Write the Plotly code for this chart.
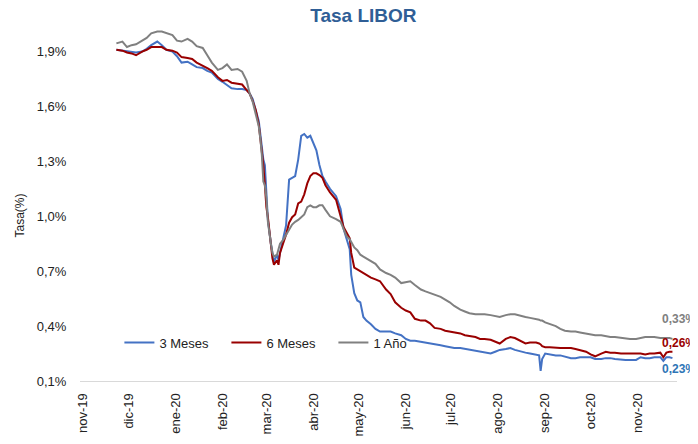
import plotly.graph_objects as go

# Fechas de muestreo (lectura aproximada del gráfico)
dates = [
    "2019-11-23", "2019-11-27", "2019-11-30", "2019-12-03", "2019-12-06",
    "2019-12-10", "2019-12-13", "2019-12-16", "2019-12-20", "2019-12-23",
    "2019-12-26", "2019-12-30", "2020-01-02", "2020-01-05", "2020-01-09",
    "2020-01-12", "2020-01-15", "2020-01-19", "2020-01-22", "2020-01-25",
    "2020-01-29", "2020-02-01", "2020-02-04", "2020-02-07", "2020-02-11",
    "2020-02-14", "2020-02-17", "2020-02-19", "2020-02-21", "2020-02-23",
    "2020-02-25", "2020-02-26", "2020-02-27", "2020-02-28", "2020-02-29",
    "2020-03-01", "2020-03-02", "2020-03-04", "2020-03-05", "2020-03-06",
    "2020-03-08", "2020-03-09", "2020-03-10", "2020-03-12", "2020-03-14",
    "2020-03-16", "2020-03-18", "2020-03-20", "2020-03-22", "2020-03-24",
    "2020-03-26", "2020-03-28", "2020-03-30", "2020-04-01", "2020-04-03",
    "2020-04-05", "2020-04-07", "2020-04-09", "2020-04-12", "2020-04-16",
    "2020-04-19", "2020-04-21", "2020-04-23", "2020-04-25", "2020-04-26",
    "2020-04-28", "2020-04-30", "2020-05-02", "2020-05-04", "2020-05-06",
    "2020-05-09", "2020-05-12", "2020-05-15", "2020-05-19", "2020-05-22",
    "2020-05-25", "2020-05-29", "2020-06-01", "2020-06-04", "2020-06-07",
    "2020-06-11", "2020-06-14", "2020-06-17", "2020-06-20", "2020-06-24",
    "2020-06-27", "2020-06-30", "2020-07-03", "2020-07-07", "2020-07-10",
    "2020-07-13", "2020-07-17", "2020-07-20", "2020-07-23", "2020-07-27",
    "2020-07-30", "2020-08-02", "2020-08-06", "2020-08-09", "2020-08-12",
    "2020-08-16", "2020-08-19", "2020-08-22", "2020-08-26", "2020-08-28",
    "2020-08-29", "2020-08-30", "2020-09-01", "2020-09-04", "2020-09-08",
    "2020-09-11", "2020-09-14", "2020-09-18", "2020-09-21", "2020-09-24",
    "2020-09-28", "2020-10-01", "2020-10-04", "2020-10-08", "2020-10-11",
    "2020-10-14", "2020-10-17", "2020-10-21", "2020-10-24", "2020-10-27",
    "2020-10-31", "2020-11-03", "2020-11-06", "2020-11-09", "2020-11-12",
    "2020-11-16", "2020-11-18", "2020-11-20", "2020-11-22", "2020-11-24",
]

libor_3m = [
    1.91, 1.905, 1.90, 1.895, 1.895, 1.90, 1.915, 1.935, 1.955, 1.935,
    1.91, 1.90, 1.875, 1.84, 1.845, 1.83, 1.815, 1.81, 1.795, 1.785,
    1.75, 1.735, 1.715, 1.70, 1.695, 1.695, 1.69, 1.67, 1.64, 1.58,
    1.52, 1.45, 1.36, 1.31, 1.28, 1.16, 0.98, 0.85, 0.79, 0.75,
    0.79, 0.76, 0.80, 0.87, 0.95, 1.20, 1.21, 1.22, 1.31, 1.44,
    1.45, 1.43, 1.44, 1.40, 1.36, 1.28, 1.22, 1.19, 1.15, 1.11,
    1.04, 0.93, 0.88, 0.82, 0.68, 0.58, 0.54, 0.53, 0.45, 0.43,
    0.41, 0.385, 0.37, 0.37, 0.37, 0.36, 0.35, 0.33, 0.32, 0.32,
    0.315, 0.31, 0.305, 0.30, 0.295, 0.29, 0.285, 0.28, 0.28, 0.275,
    0.27, 0.265, 0.26, 0.255, 0.25, 0.26, 0.27, 0.275, 0.28, 0.27,
    0.26, 0.255, 0.25, 0.245, 0.24, 0.155, 0.22, 0.25, 0.245, 0.24,
    0.24, 0.235, 0.225, 0.225, 0.23, 0.23, 0.23, 0.22, 0.22, 0.225,
    0.225, 0.22, 0.215, 0.215, 0.215, 0.215, 0.23, 0.225, 0.225, 0.23,
    0.23, 0.21, 0.23, 0.23, 0.225,
]

libor_6m = [
    1.91, 1.905, 1.895, 1.89, 1.88, 1.90, 1.91, 1.925, 1.925, 1.925,
    1.91, 1.905, 1.895, 1.87, 1.865, 1.86, 1.84, 1.825, 1.81, 1.795,
    1.76, 1.74, 1.745, 1.73, 1.725, 1.72, 1.69, 1.67, 1.63, 1.58,
    1.50, 1.43, 1.33, 1.28, 1.17, 1.05, 0.995, 0.85, 0.77, 0.735,
    0.76, 0.735, 0.80, 0.85, 0.90, 0.965, 0.995, 1.01, 1.07, 1.08,
    1.12, 1.18, 1.22, 1.235, 1.235, 1.225, 1.21, 1.17, 1.13, 1.09,
    1.00, 0.94, 0.91, 0.88, 0.80, 0.72, 0.71, 0.70, 0.69, 0.68,
    0.665, 0.655, 0.645, 0.60, 0.575, 0.53, 0.50, 0.485, 0.475, 0.44,
    0.43, 0.43, 0.415, 0.39, 0.385, 0.375, 0.37, 0.365, 0.36, 0.35,
    0.345, 0.34, 0.33, 0.33, 0.325, 0.315, 0.305, 0.33, 0.34, 0.335,
    0.32, 0.305, 0.31, 0.31, 0.305, 0.30, 0.29, 0.285, 0.285, 0.28,
    0.28, 0.28, 0.28, 0.275, 0.27, 0.26, 0.245, 0.235, 0.25, 0.26,
    0.255, 0.255, 0.25, 0.25, 0.25, 0.25, 0.25, 0.245, 0.25, 0.25,
    0.255, 0.23, 0.255, 0.26, 0.26,
]

libor_1y = [
    1.945, 1.955, 1.925, 1.935, 1.94, 1.96, 1.975, 2.00, 2.01, 2.01,
    2.00, 1.99, 1.96, 1.955, 1.97, 1.955, 1.93, 1.92, 1.88, 1.84,
    1.80, 1.81, 1.83, 1.80, 1.805, 1.79, 1.74, 1.67, 1.625, 1.55,
    1.49, 1.425, 1.335, 1.19, 1.17, 1.10, 0.97, 0.85, 0.80, 0.78,
    0.79, 0.82, 0.85, 0.87, 0.90, 0.93, 0.955, 0.97, 0.98, 0.995,
    1.01, 1.05, 1.06, 1.05, 1.05, 1.06, 1.06, 1.035, 1.00, 0.985,
    0.97, 0.93, 0.89, 0.875, 0.86, 0.83, 0.815, 0.79, 0.78, 0.77,
    0.755, 0.74, 0.71, 0.69, 0.68, 0.665, 0.635, 0.64, 0.645, 0.625,
    0.60, 0.59, 0.58, 0.57, 0.56, 0.545, 0.53, 0.51, 0.49, 0.48,
    0.47, 0.465, 0.465, 0.465, 0.46, 0.455, 0.45, 0.46, 0.465, 0.465,
    0.455, 0.45, 0.445, 0.44, 0.435, 0.43, 0.43, 0.42, 0.41, 0.40,
    0.385, 0.375, 0.37, 0.37, 0.365, 0.36, 0.355, 0.35, 0.35, 0.345,
    0.34, 0.34, 0.335, 0.335, 0.33, 0.33, 0.335, 0.34, 0.34, 0.34,
    0.335, 0.335, 0.335, 0.335, 0.33,
]

series_names = ["3 Meses", "6 Meses", "1 Año"]
end_labels = ["0,23%", "0,26%", "0,33%"]

month_ticks = [
    "2019-11-01", "2019-12-01", "2020-01-01", "2020-02-01", "2020-03-01",
    "2020-04-01", "2020-05-01", "2020-06-01", "2020-07-01", "2020-08-01",
    "2020-09-01", "2020-10-01", "2020-11-01",
]
month_labels = [
    "nov-19", "dic-19", "ene-20", "feb-20", "mar-20", "abr-20", "may-20",
    "jun-20", "jul-20", "ago-20", "sep-20", "oct-20", "nov-20",
]
y_ticks = [0.1, 0.4, 0.7, 1.0, 1.3, 1.6, 1.9]
y_labels = ["0,1%", "0,4%", "0,7%", "1,0%", "1,3%", "1,6%", "1,9%"]

FONT = "Liberation Sans, Arial, sans-serif"
COLORS = ["#4472C4", "#990000", "#808080"]
LABEL_COLORS = ["#2E75B6", "#990000", "#808080"]

# The page body keeps its default 8px margin, so the figure is 8px smaller
# than the window and the margins are trimmed by the same amount.
fig = go.Figure()

for name, values, color in zip(series_names, [libor_3m, libor_6m, libor_1y], COLORS):
    fig.add_trace(
        go.Scatter(
            x=dates,
            y=values,
            name=name,
            mode="lines",
            line=dict(color=color, width=2),
        )
    )

# Etiquetas del último valor, a la derecha de las líneas
for text, color, y in zip(end_labels, LABEL_COLORS, [0.165, 0.31, 0.44]):
    fig.add_annotation(
        x=0.972, xref="paper", xanchor="left",
        y=y, yref="y", yanchor="middle",
        text=f"<b>{text}</b>", showarrow=False,
        font=dict(family=FONT, size=12, color=color),
    )

fig.add_annotation(
    x=-0.1, xref="paper", xanchor="center",
    y=0.453, yref="paper", yanchor="middle",
    text="Tasa(%)", textangle=-90, showarrow=False,
    font=dict(family=FONT, size=12, color="#222222"),
)

fig.update_layout(
    width=690,
    height=436,
    margin=dict(l=72, r=21, t=7, b=58),
    paper_bgcolor="white",
    plot_bgcolor="white",
    font=dict(family=FONT, size=13, color="#222222"),
    title=dict(
        text="<b>Tasa LIBOR</b>",
        x=0.515, xanchor="center",
        y=0.984, yref="container", yanchor="middle",
        font=dict(family=FONT, size=19, color="#2F5E96"),
    ),
    showlegend=True,
    legend=dict(
        orientation="h",
        x=0.066, xanchor="left",
        y=0.105, yanchor="middle",
        bgcolor="rgba(0,0,0,0)",
        entrywidth=62,
        font=dict(family=FONT, size=13, color="#222222"),
    ),
    xaxis=dict(
        type="date",
        range=["2019-10-30", "2020-11-27"],
        tickvals=month_ticks,
        ticktext=month_labels,
        tickangle=-90,
        showgrid=False,
        zeroline=False,
        showline=True,
        linecolor="#D9D9D9",
        linewidth=1,
        ticks="outside",
        ticklen=6,
        tickcolor="rgba(0,0,0,0)",
        tickfont=dict(family=FONT, size=13, color="#222222"),
    ),
    yaxis=dict(
        range=[0.1, 2.1],
        tickvals=y_ticks,
        ticktext=y_labels,
        showgrid=False,
        zeroline=False,
        showline=False,
        ticks="outside",
        ticklen=10,
        tickcolor="rgba(0,0,0,0)",
        tickfont=dict(family=FONT, size=13, color="#222222"),
    ),
)

fig.write_html("out.html")
